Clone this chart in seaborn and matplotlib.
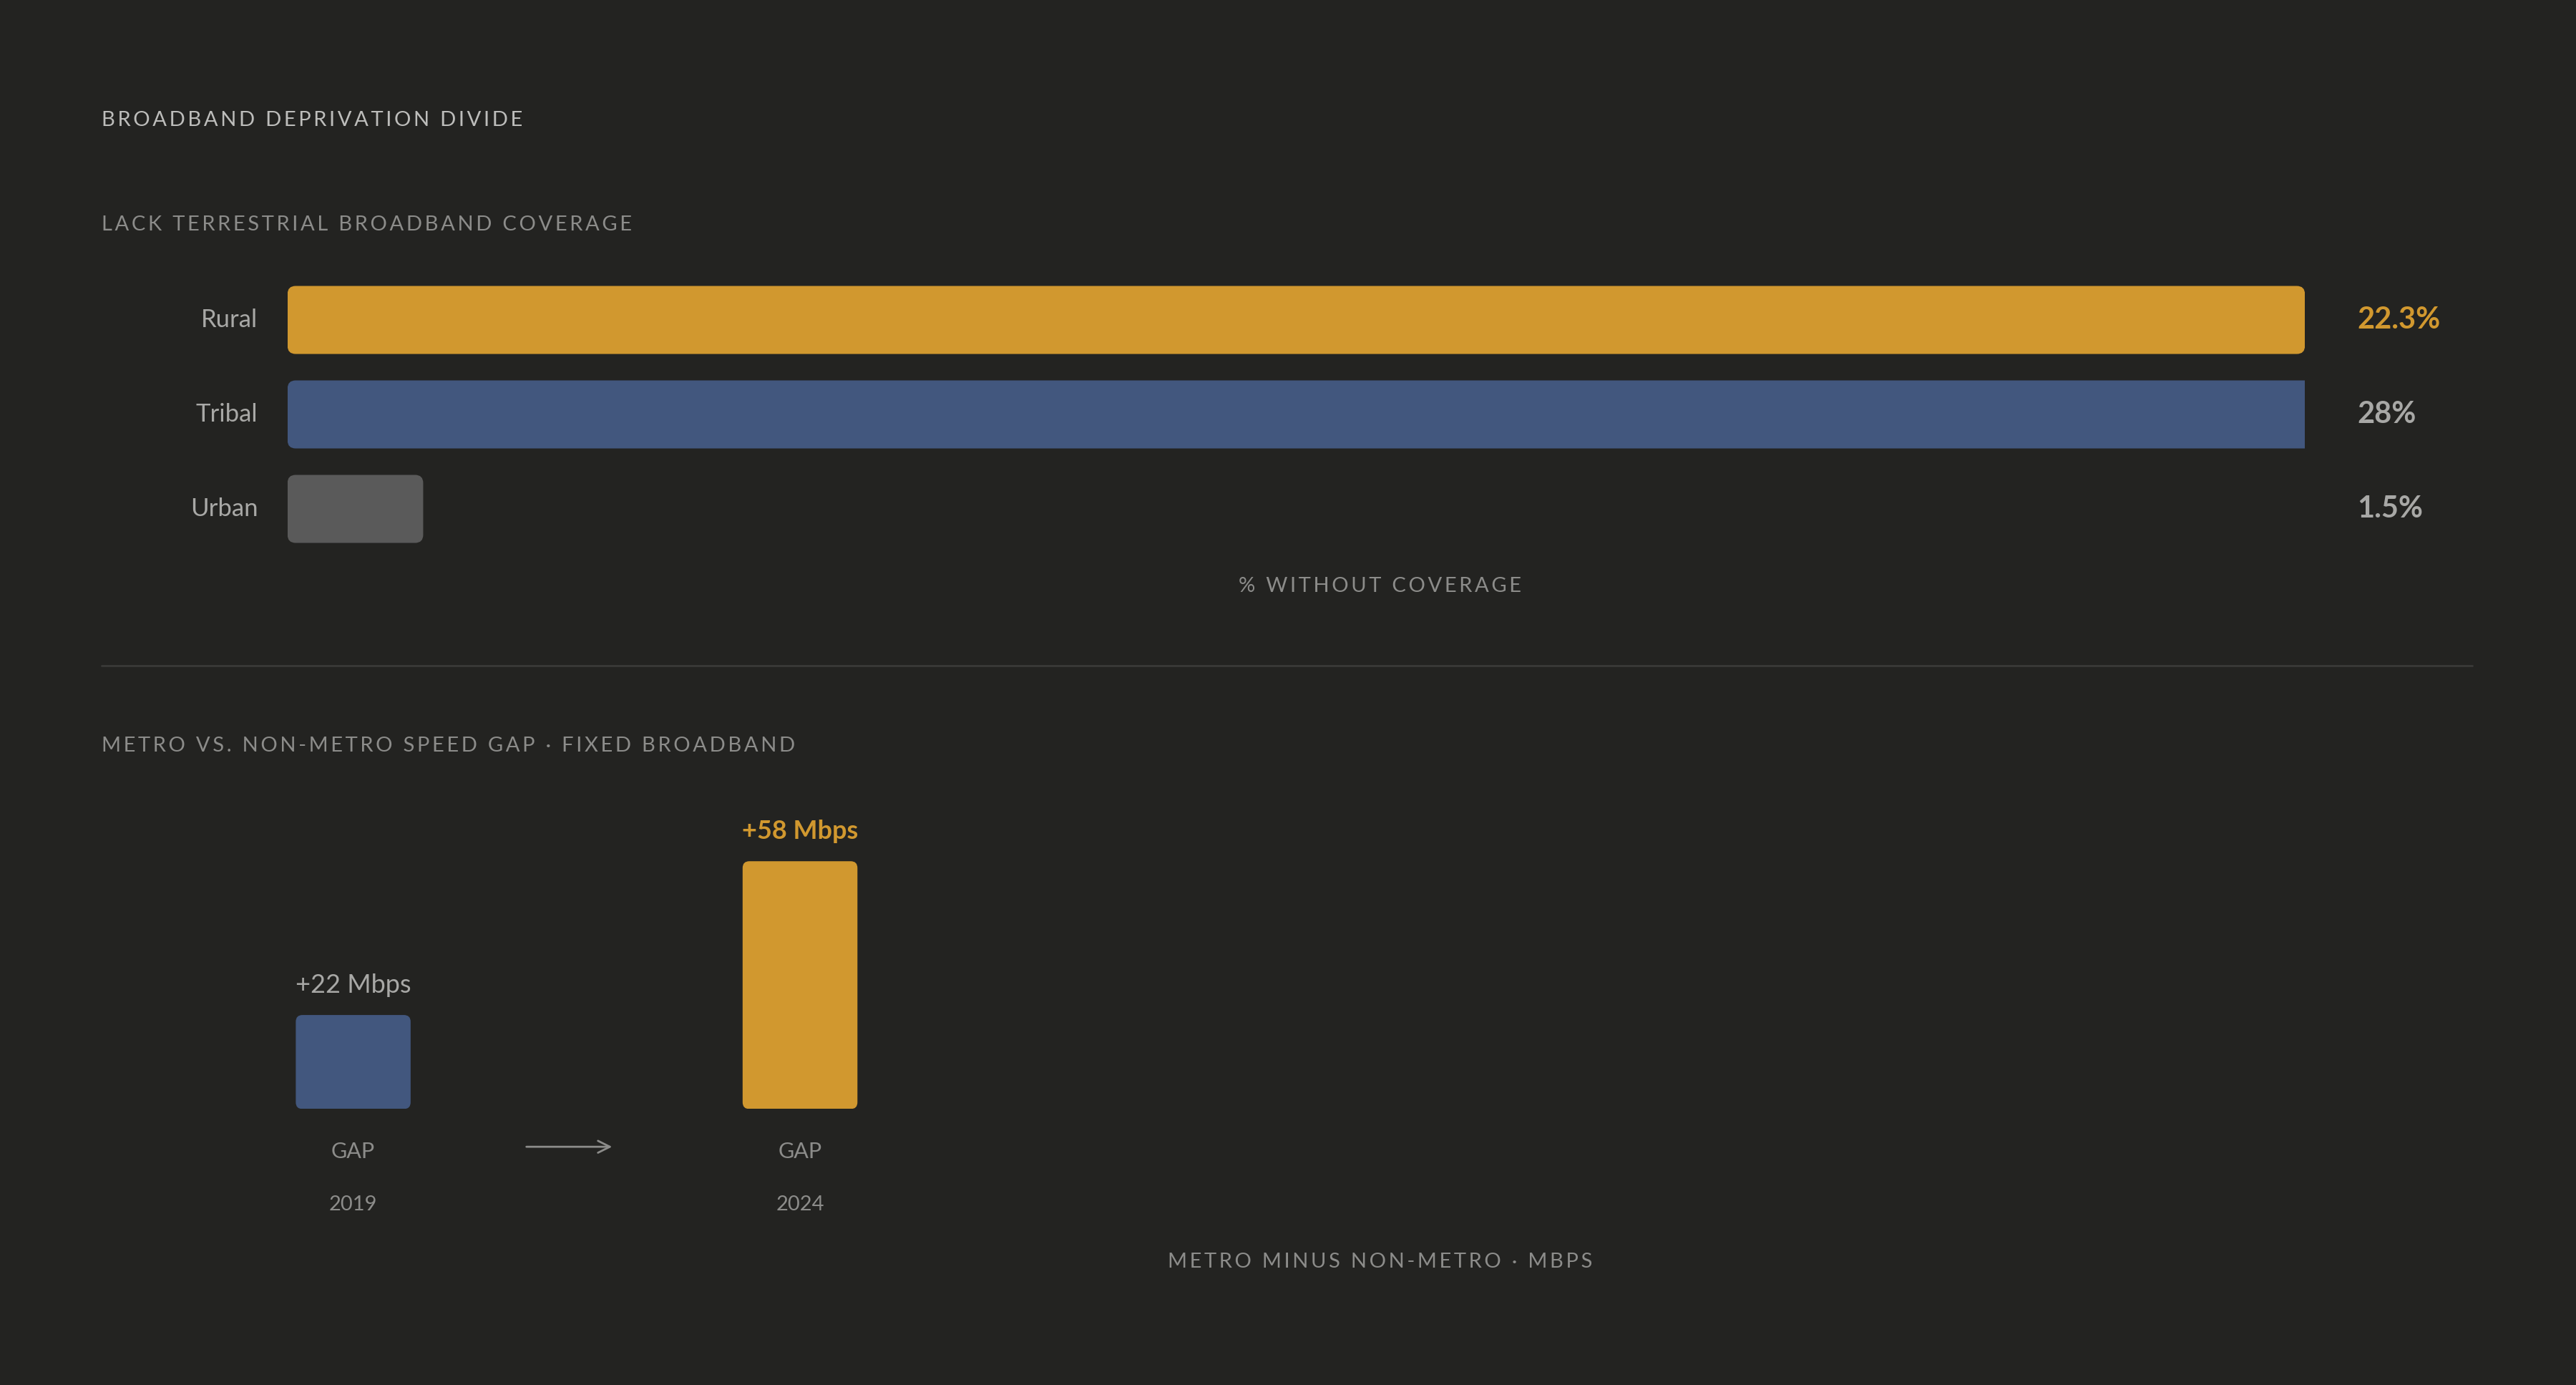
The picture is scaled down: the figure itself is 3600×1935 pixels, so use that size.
import matplotlib
matplotlib.use("Agg")
import matplotlib.pyplot as plt
import seaborn as sns
import pandas as pd
from matplotlib.patches import FancyBboxPatch

cov_cats = ["Rural", "Tribal", "Urban"]
cov_vals = [22.3, 28.0, 1.5]
cov_labels = ["22.3%", "28%", "1.5%"]
gap_years = ["2019", "2024"]
gap_vals = [22, 58]
gap_labels = ["+22 Mbps", "+58 Mbps"]

BG = "#232321"; GOLD = "#D1982F"; BLUE = "#42577E"; GREY = "#5A5A5A"
TXT = "#8C8C8A"; LBL = "#A8A8A6"
sns.set_theme(style="white")
plt.rcParams["font.family"] = ["Lato", "DejaVu Sans"]

W, H = 1568, 843
fig = plt.figure(figsize=(18, 9.675), dpi=200, facecolor=BG)

def fx(x): return x / W
def fy(y): return 1 - y / H
def spaced(s): return "\u2009".join(s).replace("\u2009 \u2009", "  ")

def ftext(x, y, s, **kw):
    fig.text(fx(x), fy(y), s, **kw)

def round_bars(ax, r_x, aspect, colors):
    for p, c in zip(list(ax.patches), colors):
        x, y, w, h = p.get_x(), p.get_y(), p.get_width(), p.get_height()
        p.remove()
        ax.add_patch(FancyBboxPatch((x, y), w, h, boxstyle=f"round,pad=0,rounding_size={r_x}",
                                    mutation_aspect=aspect, fc=c, ec="none", clip_on=True))

ftext(62, 73, spaced("BROADBAND DEPRIVATION DIVIDE"), color="#BDBDBB", fontsize=10.5, va="center")
ftext(62, 137, spaced("LACK TERRESTRIAL BROADBAND COVERAGE"), color=TXT, fontsize=10.5, va="center")

# Top chart
ax1 = fig.add_axes([fx(175), fy(338.5), fx(1403) - fx(175), fy(166) - fy(338.5)])
ax1.set_facecolor(BG)
df1 = pd.DataFrame({"cat": cov_cats, "val": cov_vals})
sns.barplot(data=df1, y="cat", x="val", orient="h", ax=ax1, width=0.72, color=GOLD)
ax1.set_xlim(0, 22.3)
ax1.set_ylim(2.5, -0.5)
round_bars(ax1, 0.09, 0.96, [GOLD, BLUE, GREY])
for s in ax1.spines.values(): s.set_visible(False)
ax1.set_xticks([]); ax1.set_yticks([]); ax1.set_xlabel(""); ax1.set_ylabel("")
vcols = [GOLD, LBL, LBL]
for i, (c, l) in enumerate(zip(cov_cats, cov_labels)):
    ax1.annotate(c, xy=(0, i), xytext=(-18 * 2.3 * 72 / 200, 0), textcoords="offset points",
                 ha="right", va="center", color=LBL, fontsize=12.5)
    ax1.annotate(l, xy=(1, i), xycoords=("axes fraction", "data"), xytext=(32 * 2.3 * 72 / 200, 0),
                 textcoords="offset points", ha="left", va="center", color=vcols[i],
                 fontsize=15, fontweight="bold")
ftext(840, 357, spaced("% WITHOUT COVERAGE"), color=TXT, fontsize=10.5, ha="center", va="center")

fig.add_artist(plt.Line2D([fx(62), fx(1505)], [fy(405), fy(405)], color="#3A3A38", lw=1))

ftext(62, 454, spaced("METRO VS. NON-METRO SPEED GAP · FIXED BROADBAND"), color=TXT, fontsize=10.5, va="center")

# Bottom chart
ax2 = fig.add_axes([fx(62), fy(675), fx(1505) - fx(62), fy(493) - fy(675)])
ax2.set_facecolor(BG)
df2 = pd.DataFrame({"yr": gap_years, "val": gap_vals})
sns.barplot(data=df2, x="yr", y="val", ax=ax2, width=0.257, color=GOLD)
ax2.set_xlim(-0.5625, 4.743)
ax2.set_ylim(0, 70)
round_bars(ax2, 0.015, 0.385 / 0.0037 / 70 * 0.0037 * 70 / 2.6 * 0.0037 / 0.0037 if False else 2.6 ** -1 * 272 * 0 + 0.104 / 0.0037 * 0.0037 * 0 + (1 / 2.6) / (1 / 272), [BLUE, GOLD])
for s in ax2.spines.values(): s.set_visible(False)
ax2.set_xticks([]); ax2.set_yticks([]); ax2.set_xlabel(""); ax2.set_ylabel("")
k = 2.3 * 72 / 200
lcols = [LBL, GOLD]; lw = ["normal", "bold"]
for i, (v, l) in enumerate(zip(gap_vals, gap_labels)):
    ax2.annotate(l, xy=(i, v), xytext=(0, 11 * k), textcoords="offset points", ha="center",
                 va="bottom", color=lcols[i], fontsize=13, fontweight=lw[i])
    ax2.annotate("GAP", xy=(i, 0), xytext=(0, -26 * k), textcoords="offset points", ha="center",
                 va="center", color=TXT, fontsize=11)
    ax2.annotate(gap_years[i], xy=(i, 0), xytext=(0, -58 * k), textcoords="offset points",
                 ha="center", va="center", color=TXT, fontsize=10.5)
fig.add_artist(matplotlib.patches.FancyArrowPatch((fx(318), fy(698)), (fx(375), fy(698)),
               transform=fig.transFigure, arrowstyle="->,head_length=6,head_width=3",
               color="#8C8C8A", lw=1))
ftext(840, 768, spaced("METRO MINUS NON-METRO · MBPS"), color=TXT, fontsize=10.5, ha="center", va="center")

fig.savefig("out.png", dpi=200, facecolor=BG)
